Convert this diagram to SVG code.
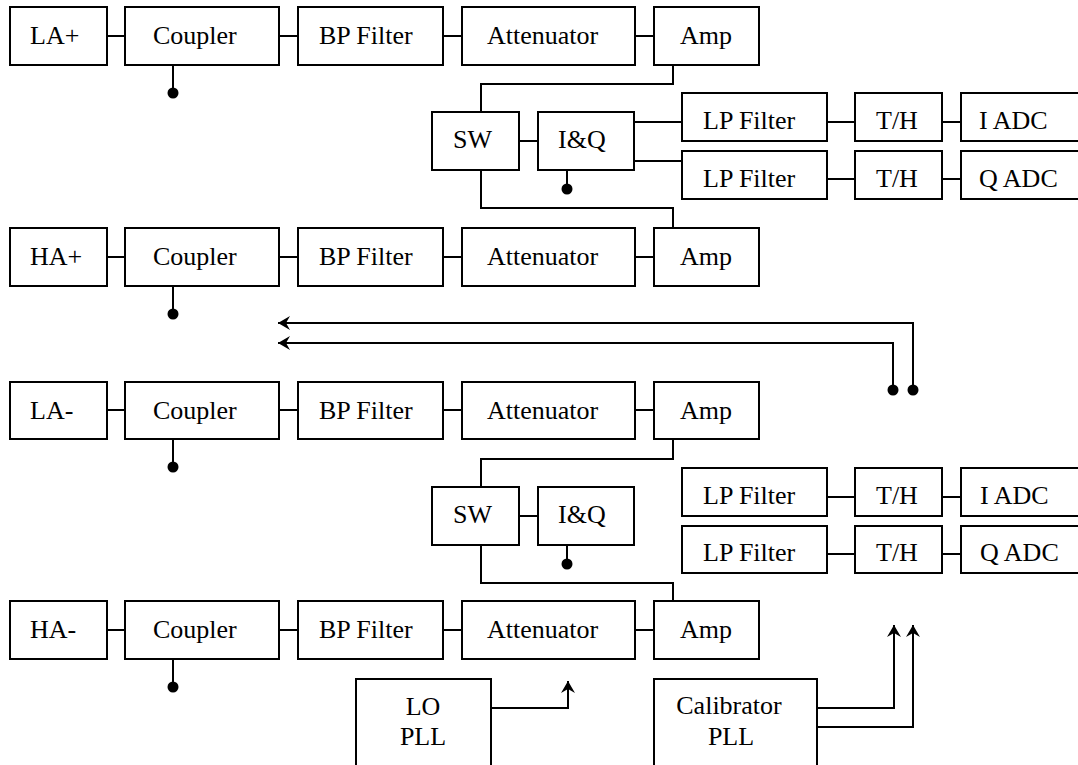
<svg xmlns="http://www.w3.org/2000/svg" width="1078" height="765" viewBox="0 0 1078 765">
<style>
.b{fill:#fff;stroke:#000;stroke-width:2}
.t{font-family:"Liberation Serif","Times New Roman",serif;font-size:26px;fill:#000}
.c{text-anchor:middle}
.w{fill:none;stroke:#000;stroke-width:2}
.d{fill:#000}
</style>
<defs>
<marker id="arr" markerUnits="userSpaceOnUse" markerWidth="16" markerHeight="16" viewBox="-14 -8 16 16" refX="0" refY="0" orient="auto">
<path d="M0,0 L-12,-7 L-8,0 L-12,7 Z" fill="#000"/>
</marker>
</defs>
<rect width="1078" height="765" fill="#fff"/>
<g id="connectors">
<path class="w" d="M107,36H125M279,36H298M443,36H462M635,36H654"/>
<path class="w" d="M107,257H125M279,257H298M443,257H462M635,257H654"/>
<path class="w" d="M107,410H125M279,410H298M443,410H462M635,410H654"/>
<path class="w" d="M107,630H125M279,630H298M443,630H462M635,630H654"/>
<path class="w" d="M173,65V93M173,286V314M173,439V467M173,659V687"/>
<circle class="d" cx="173" cy="93" r="5.5"/>
<circle class="d" cx="173" cy="314" r="5.5"/>
<circle class="d" cx="173" cy="467" r="5.5"/>
<circle class="d" cx="173" cy="687" r="5.5"/>
<path class="w" d="M673,65V84H481V112"/>
<path class="w" d="M481,170V208H673V228"/>
<path class="w" d="M519,141H538"/>
<path class="w" d="M567,170V189"/>
<circle class="d" cx="567" cy="189" r="5.5"/>
<path class="w" d="M634,122H682M634,161H682"/>
<path class="w" d="M827,122H855M942,122H961M827,179H855M942,179H961"/>
<path class="w" d="M673,439V459H481V487"/>
<path class="w" d="M481,545V583H673V601"/>
<path class="w" d="M519,516H538"/>
<path class="w" d="M567,545V564"/>
<circle class="d" cx="567" cy="564" r="5.5"/>
<path class="w" d="M827,497H855M942,497H961M827,554H855M942,554H961"/>
<path class="w" d="M913,390V323H278" marker-end="url(#arr)"/>
<path class="w" d="M893,390V343H278" marker-end="url(#arr)"/>
<circle class="d" cx="893" cy="390" r="5.5"/>
<circle class="d" cx="913" cy="390" r="5.5"/>
<path class="w" d="M491,708H568V681" marker-end="url(#arr)"/>
<path class="w" d="M817,708H894V625" marker-end="url(#arr)"/>
<path class="w" d="M817,727H913V625" marker-end="url(#arr)"/>
</g>
<g id="row-la-plus">
<g id="la-plus"><rect class="b" x="10" y="7" width="97" height="58"/><text class="t" x="30" y="44">LA+</text></g>
<g id="coupler1"><rect class="b" x="125" y="7" width="154" height="58"/><text class="t" x="153" y="44">Coupler</text></g>
<g id="bpf1"><rect class="b" x="298" y="7" width="145" height="58"/><text class="t" x="319" y="44">BP Filter</text></g>
<g id="att1"><rect class="b" x="462" y="7" width="173" height="58"/><text class="t" x="487" y="44">Attenuator</text></g>
<g id="amp1"><rect class="b" x="654" y="7" width="105" height="58"/><text class="t" x="680" y="44">Amp</text></g>
</g>
<g id="row-ha-plus">
<g id="ha-plus"><rect class="b" x="10" y="228" width="97" height="58"/><text class="t" x="30" y="265">HA+</text></g>
<g id="coupler2"><rect class="b" x="125" y="228" width="154" height="58"/><text class="t" x="153" y="265">Coupler</text></g>
<g id="bpf2"><rect class="b" x="298" y="228" width="145" height="58"/><text class="t" x="319" y="265">BP Filter</text></g>
<g id="att2"><rect class="b" x="462" y="228" width="173" height="58"/><text class="t" x="487" y="265">Attenuator</text></g>
<g id="amp2"><rect class="b" x="654" y="228" width="105" height="58"/><text class="t" x="680" y="265">Amp</text></g>
</g>
<g id="row-la-minus">
<g id="la-minus"><rect class="b" x="10" y="382" width="97" height="57"/><text class="t" x="30" y="419">LA-</text></g>
<g id="coupler3"><rect class="b" x="125" y="382" width="154" height="57"/><text class="t" x="153" y="419">Coupler</text></g>
<g id="bpf3"><rect class="b" x="298" y="382" width="145" height="57"/><text class="t" x="319" y="419">BP Filter</text></g>
<g id="att3"><rect class="b" x="462" y="382" width="173" height="57"/><text class="t" x="487" y="419">Attenuator</text></g>
<g id="amp3"><rect class="b" x="654" y="382" width="105" height="57"/><text class="t" x="680" y="419">Amp</text></g>
</g>
<g id="row-ha-minus">
<g id="ha-minus"><rect class="b" x="10" y="601" width="97" height="58"/><text class="t" x="30" y="638">HA-</text></g>
<g id="coupler4"><rect class="b" x="125" y="601" width="154" height="58"/><text class="t" x="153" y="638">Coupler</text></g>
<g id="bpf4"><rect class="b" x="298" y="601" width="145" height="58"/><text class="t" x="319" y="638">BP Filter</text></g>
<g id="att4"><rect class="b" x="462" y="601" width="173" height="58"/><text class="t" x="487" y="638">Attenuator</text></g>
<g id="amp4"><rect class="b" x="654" y="601" width="105" height="58"/><text class="t" x="680" y="638">Amp</text></g>
</g>
<g id="sw1"><rect class="b" x="432" y="112" width="87" height="58"/><text class="t" x="453" y="148">SW</text></g>
<g id="iq1"><rect class="b" x="538" y="112" width="96" height="58"/><text class="t" x="558" y="148">I&amp;Q</text></g>
<g id="sw2"><rect class="b" x="432" y="487" width="87" height="58"/><text class="t" x="453" y="523">SW</text></g>
<g id="iq2"><rect class="b" x="538" y="487" width="96" height="58"/><text class="t" x="558" y="523">I&amp;Q</text></g>
<g id="lpf1"><rect class="b" x="682" y="93" width="145" height="48"/><text class="t" x="703" y="129">LP Filter</text></g>
<g id="th1"><rect class="b" x="855" y="93" width="87" height="48"/><text class="t" x="876" y="129">T/H</text></g>
<g id="iadc1"><rect class="b" x="961" y="93" width="125" height="48"/><text class="t" x="979" y="129">I ADC</text></g>
<g id="lpf2"><rect class="b" x="682" y="151" width="145" height="48"/><text class="t" x="703" y="187">LP Filter</text></g>
<g id="th2"><rect class="b" x="855" y="151" width="87" height="48"/><text class="t" x="876" y="187">T/H</text></g>
<g id="qadc1"><rect class="b" x="961" y="151" width="125" height="48"/><text class="t" x="979" y="187">Q ADC</text></g>
<g id="lpf3"><rect class="b" x="682" y="468" width="145" height="48"/><text class="t" x="703" y="504">LP Filter</text></g>
<g id="th3"><rect class="b" x="855" y="468" width="87" height="48"/><text class="t" x="876" y="504">T/H</text></g>
<g id="iadc2"><rect class="b" x="961" y="468" width="125" height="48"/><text class="t" x="980" y="504">I ADC</text></g>
<g id="lpf4"><rect class="b" x="682" y="526" width="145" height="47"/><text class="t" x="703" y="561">LP Filter</text></g>
<g id="th4"><rect class="b" x="855" y="526" width="87" height="47"/><text class="t" x="876" y="561">T/H</text></g>
<g id="qadc2"><rect class="b" x="961" y="526" width="125" height="47"/><text class="t" x="980" y="561">Q ADC</text></g>
<g id="lo-pll"><rect class="b" x="356" y="679" width="135" height="95"/><text class="t c" x="423" y="715">LO</text><text class="t c" x="423" y="745">PLL</text></g>
<g id="cal-pll"><rect class="b" x="654" y="679" width="163" height="95"/><text class="t c" x="729" y="714">Calibrator</text><text class="t c" x="731" y="745">PLL</text></g>
</svg>
